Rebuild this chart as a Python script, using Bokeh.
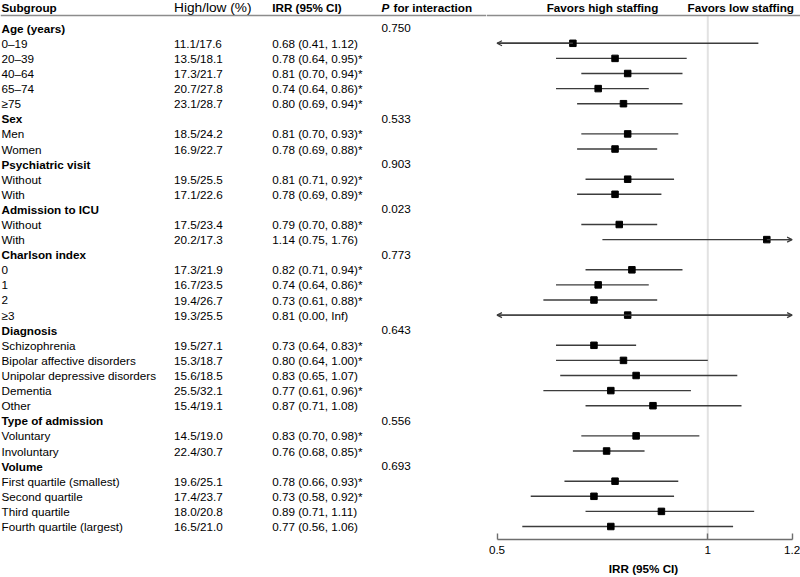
import math
from bokeh.plotting import figure
from bokeh.layouts import row
from bokeh.models import (ColumnDataSource, LabelSet, Range1d, FixedTicker,
                          Span, Arrow, OpenHead)
from bokeh.core.properties import value
from bokeh.embed import file_html
from bokeh.resources import INLINE

# ---------------- data ----------------
groups = ["Age (years)", "Sex", "Psychiatric visit", "Admission to ICU",
          "Charlson index", "Diagnosis", "Type of admission", "Volume"]
p_interaction = ["0.750", "0.533", "0.903", "0.023", "0.773", "0.643", "0.556", "0.693"]
group_sizes = [5, 2, 2, 2, 4, 5, 2, 4]

subgroups = ["0\u201319", "20\u201339", "40\u201364", "65\u201374", "\u226575",
             "Men", "Women",
             "Without", "With",
             "Without", "With",
             "0", "1", "2", "\u22653",
             "Schizophrenia", "Bipolar affective disorders", "Unipolar depressive disorders",
             "Dementia", "Other",
             "Voluntary", "Involuntary",
             "First quartile (smallest)", "Second quartile", "Third quartile",
             "Fourth quartile (largest)"]
high_low = ["11.1/17.6", "13.5/18.1", "17.3/21.7", "20.7/27.8", "23.1/28.7",
            "18.5/24.2", "16.9/22.7",
            "19.5/25.5", "17.1/22.6",
            "17.5/23.4", "20.2/17.3",
            "17.3/21.9", "16.7/23.5", "19.4/26.7", "19.3/25.5",
            "19.5/27.1", "15.3/18.7", "15.6/18.5", "25.5/32.1", "15.4/19.1",
            "14.5/19.0", "22.4/30.7",
            "19.6/25.1", "17.4/23.7", "18.0/20.8", "16.5/21.0"]
irr = [0.68, 0.78, 0.81, 0.74, 0.80,
       0.81, 0.78,
       0.81, 0.78,
       0.79, 1.14,
       0.82, 0.74, 0.73, 0.81,
       0.73, 0.80, 0.83, 0.77, 0.87,
       0.83, 0.76,
       0.78, 0.73, 0.89, 0.77]
ci_low = [0.41, 0.64, 0.70, 0.64, 0.69,
          0.70, 0.69,
          0.71, 0.69,
          0.70, 0.75,
          0.71, 0.64, 0.61, 0.00,
          0.64, 0.64, 0.65, 0.61, 0.71,
          0.70, 0.68,
          0.66, 0.58, 0.71, 0.56]
ci_high = [1.12, 0.95, 0.94, 0.86, 0.94,
           0.93, 0.88,
           0.92, 0.89,
           0.88, 1.76,
           0.94, 0.86, 0.88, math.inf,
           0.83, 1.00, 1.07, 0.96, 1.08,
           0.98, 0.85,
           0.93, 0.92, 1.11, 1.06]
significant = [False, True, True, True, True,
               True, True,
               True, True,
               True, False,
               True, True, True, False,
               True, True, False, True, False,
               True, True,
               True, True, False, False]

axis_ticks = [0.5, 1, 1.2]
axis_min, axis_max = 0.5, 1.2
axis_title = "IRR (95% CI)"

# ---------------- layout constants ----------------
H = 577
BOTTOM = 38
LEFT_W = 486
RIGHT_W = 800 - LEFT_W
AX_LEFT_PX, AX_RIGHT_PX = 496.5, 791.6          # page px of 0.5 and 1.2
SCALE = (AX_RIGHT_PX - AX_LEFT_PX) / (axis_max - axis_min)
XR0 = axis_min - (AX_LEFT_PX - LEFT_W) / SCALE
XR1 = axis_max + (800 - AX_RIGHT_PX) / SCALE


def xr(page_px):
    return axis_min + (page_px - AX_LEFT_PX) / SCALE


ROW0, ROW_PX = 27.7, 15.1
Y_TOP = -ROW0 / ROW_PX
Y_BOTTOM = (H - BOTTOM - ROW0) / ROW_PX
Y_HEADER = (6.5 - ROW0) / ROW_PX
Y_RULE = (15.0 - ROW0) / ROW_PX

FONT = value("Liberation Sans")
FS = value("11.7px")
LINE = "#3c3c3c"
RULE = "#8c8c8c"

# ---------------- rows ----------------
group_rows, item_rows = [], []
r = 0
for n in group_sizes:
    group_rows.append(r)
    r += 1
    for _ in range(n):
        item_rows.append(r)
        r += 1


def fmt(v):
    return "Inf" if math.isinf(v) else f"{v:.2f}"


irr_text = [f"{e:.2f} ({fmt(lo)}, {fmt(hi)})" + ("*" if s else "")
            for e, lo, hi, s in zip(irr, ci_low, ci_high, significant)]

y_range = Range1d(Y_BOTTOM, Y_TOP)
common = dict(height=H, y_range=y_range, output_backend="svg",
              toolbar_location=None, y_axis_location=None,
              min_border_left=0, min_border_right=0, min_border_top=0,
              min_border_bottom=BOTTOM, outline_line_color=None,
              background_fill_color="white", border_fill_color="white")

tab = figure(width=LEFT_W, x_range=Range1d(0, LEFT_W), x_axis_location=None, **common)
fp = figure(width=RIGHT_W, x_range=Range1d(XR0, XR1), **common)
for f in (tab, fp):
    f.xgrid.visible = False
    f.ygrid.visible = False
    f.add_layout(Span(location=Y_RULE, dimension="width", line_color=RULE,
                      line_width=1.5))


def labels(fig, x, ys, texts, style="normal", size=FS, align="left"):
    src = ColumnDataSource(dict(x=[x] * len(ys), y=ys, t=texts))
    fig.add_layout(LabelSet(x="x", y="y", text="t", source=src,
                            text_font=FONT, text_font_size=size,
                            text_font_style=value(style), text_color=value("black"),
                            text_baseline=value("middle"), text_align=value(align)))


# ---------------- table ----------------
labels(tab, 1, group_rows, groups, style="bold")
labels(tab, 381, group_rows, p_interaction)
labels(tab, 1, item_rows, subgroups)
labels(tab, 173.5, item_rows, high_low)
labels(tab, 271.7, item_rows, irr_text)

labels(tab, 1, [Y_HEADER], ["Subgroup"], style="bold")
labels(tab, 173.5, [Y_HEADER], ["High/low (%)"], size=value("13.7px"))
labels(tab, 271.7, [Y_HEADER], ["IRR (95% CI)"], style="bold")
labels(tab, 381, [Y_HEADER], ["P"], style="bold italic")
labels(tab, 393, [Y_HEADER], ["for interaction"], style="bold")

# ---------------- forest ----------------
fp.segment(x0=[1], y0=[Y_RULE], x1=[1], y1=[Y_BOTTOM],
           line_color="#e2e2e2", line_width=2)

seg_src = ColumnDataSource(dict(
    y=item_rows,
    x0=[max(v, axis_min) for v in ci_low],
    x1=[min(v, axis_max) for v in ci_high],
    est=irr))
fp.segment(x0="x0", y0="y", x1="x1", y1="y", source=seg_src,
           line_color=LINE, line_width=1.4)

left_idx = [i for i, v in enumerate(ci_low) if v < axis_min]
right_idx = [i for i, v in enumerate(ci_high) if v > axis_max]
arr_src = ColumnDataSource(dict(
    xs=[irr[i] for i in left_idx] + [irr[i] for i in right_idx],
    xe=[axis_min for _ in left_idx] + [axis_max for _ in right_idx],
    y=[item_rows[i] for i in left_idx] + [item_rows[i] for i in right_idx]))
fp.add_layout(Arrow(end=OpenHead(size=5, line_width=1.2, line_color=LINE),
                    x_start="xs", y_start="y", x_end="xe", y_end="y",
                    source=arr_src, line_color=LINE, line_width=1.4))

fp.scatter(x="est", y="y", source=seg_src, marker="square", size=6.5,
           fill_color="black", line_color="black")

labels(fp, xr(602), [Y_HEADER], ["Favors high staffing"], style="bold", align="center")
labels(fp, xr(687), [Y_HEADER], ["Favors low staffing"], style="bold")

ax = fp.xaxis[0]
ax.ticker = FixedTicker(ticks=axis_ticks)
ax.bounds = (axis_min, axis_max)
ax.axis_label = axis_title
ax.axis_label_text_font = "Liberation Sans"
ax.axis_label_text_font_size = "11.7px"
ax.axis_label_text_font_style = "bold"
ax.axis_label_text_color = "black"
ax.axis_label_standoff = 5
ax.major_label_text_font = "Liberation Sans"
ax.major_label_text_font_size = "11.7px"
ax.major_label_text_color = "black"
ax.major_label_standoff = 6
ax.axis_line_color = "#6e6e6e"
ax.axis_line_width = 1.4
ax.major_tick_line_color = "#6e6e6e"
ax.major_tick_line_width = 1.4
ax.major_tick_in = 6
ax.major_tick_out = 0
ax.minor_tick_in = 0
ax.minor_tick_out = 0

layout = row(tab, fp, spacing=0)
open("out.html", "w").write(file_html(layout, INLINE))
